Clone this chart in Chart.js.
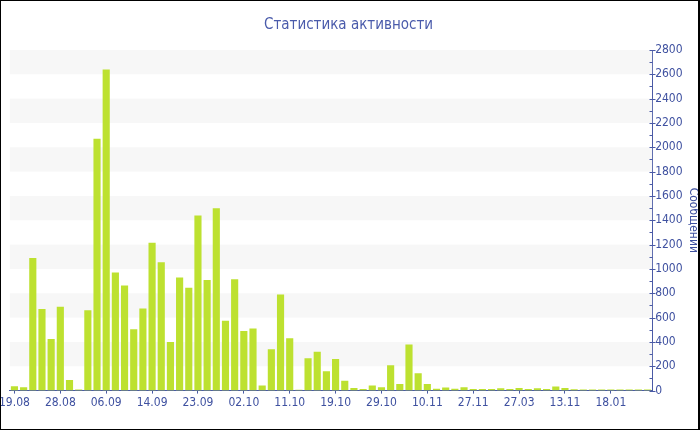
<!DOCTYPE html>
<html>
<head>
<meta charset="utf-8">
<script src="https://cdn.jsdelivr.net/npm/chart.js@4"></script>
<style>
  html, body { margin: 0; padding: 0; background: #fff; }
  #wrap {
    width: 700px; height: 430px; box-sizing: border-box;
    border: 1px solid #000; border-right-width: 2px;
    position: relative; overflow: hidden;
  }
  #box { position: absolute; left: -4px; top: 0; width: 703px; height: 428px; }
</style>
</head>
<body>
<div id="wrap"><div id="box"><canvas id="grafico"></canvas></div></div>
<script>
// подписи оси X (подписана каждая пятая категория)
const shownLabels = ['19.08', '28.08', '06.09', '14.09', '23.09', '02.10', '11.10',
                     '19.10', '29.10', '10.11', '27.11', '27.03', '13.11', '18.01'];

// сообщений в каждом интервале
const messages = [35, 28, 1090, 670, 425, 690, 88, 10, 660, 2070,
                  2640, 970, 865, 505, 675, 1215, 1055, 400, 930, 845,
                  1440, 910, 1500, 575, 915, 490, 510, 41, 340, 790,
                  430, 8, 265, 320, 160, 260, 80, 22, 14, 41,
                  27, 208, 55, 379, 143, 55, 16, 25, 16, 27,
                  14, 14, 14, 19, 14, 22, 14, 19, 14, 33,
                  22, 11, 9, 9, 9, 9, 9, 9, 9, 9];

const yTicks = [0, 200, 400, 600, 800, 1000, 1200, 1400, 1600, 1800,
                2000, 2200, 2400, 2600, 2800];

const categories = messages.map((v, i) => (i % 5 === 0 ? shownLabels[i / 5] : ''));

const axisColor = '#4a5aa6';
const textColor = '#3f51a0';
const fontName = "'DejaVu Sans Condensed', 'DejaVu Sans', sans-serif";

// полосы фона через одну
const stripes = {
    id: 'stripes',
    beforeDatasetsDraw(chart) {
        const { ctx, chartArea, scales } = chart;
        ctx.save();
        ctx.fillStyle = '#f7f7f7';
        for (let i = 1; i < yTicks.length - 1; i += 2) {
            const top = scales.y.getPixelForValue(yTicks[i + 1]);
            const bottom = scales.y.getPixelForValue(yTicks[i]);
            ctx.fillRect(chartArea.left, top, chartArea.right - chartArea.left, bottom - top);
        }
        ctx.restore();
    }
};

// засечки правой оси: большие через ось, малые только слева
const yMarks = {
    id: 'yMarks',
    afterDraw(chart) {
        const { ctx, scales } = chart;
        const x = Math.round(scales.y.left) + 0.5;
        ctx.save();
        ctx.strokeStyle = axisColor;
        ctx.lineWidth = 1;
        ctx.beginPath();
        for (let v = 0; v <= 2800; v += 100) {
            const y = Math.round(scales.y.getPixelForValue(v)) + 0.5;
            const major = yTicks.includes(v);
            ctx.moveTo(x - 3, y);
            ctx.lineTo(major ? x + 3 : x, y);
        }
        ctx.stroke();
        ctx.restore();
    }
};

new Chart(document.getElementById('grafico'), {
    type: 'bar',
    data: {
        labels: categories,
        datasets: [{
            data: messages,
            backgroundColor: '#bde130',
            borderWidth: 0,
            barPercentage: 0.95,
            categoryPercentage: 0.82
        }]
    },
    options: {
        responsive: true,
        maintainAspectRatio: false,
        animation: false,
        layout: { padding: { left: 0, right: 0, top: 0, bottom: 17 } },
        plugins: {
            legend: { display: false },
            tooltip: { enabled: false },
            title: {
                display: true,
                text: 'Статистика активности',
                color: '#4a5bab',
                font: { family: fontName, size: 15, weight: 'normal' },
                padding: { top: 15, bottom: 16 }
            }
        },
        scales: {
            x: {
                offset: true,
                grid: {
                    offset: false,
                    drawOnChartArea: false,
                    tickLength: 3,
                    tickColor: c => (c.tick && c.tick.label ? axisColor : 'transparent')
                },
                border: { color: axisColor, width: 1 },
                ticks: {
                    autoSkip: false,
                    maxRotation: 0,
                    color: textColor,
                    padding: 2,
                    font: { family: fontName, size: 12 }
                }
            },
            y: {
                position: 'right',
                min: 0,
                max: 2800,
                grid: { display: false, drawTicks: false },
                border: { color: axisColor, width: 1 },
                ticks: {
                    stepSize: 200,
                    autoSkip: false,
                    color: textColor,
                    padding: 3,
                    font: { family: fontName, size: 12 },
                    callback: v => String(v)
                },
                title: {
                    display: true,
                    text: 'Сообщений',
                    color: textColor,
                    font: { family: fontName, size: 12 },
                    padding: { top: 0, bottom: 0 }
                }
            }
        }
    },
    plugins: [stripes, yMarks]
});
</script>
</body>
</html>
